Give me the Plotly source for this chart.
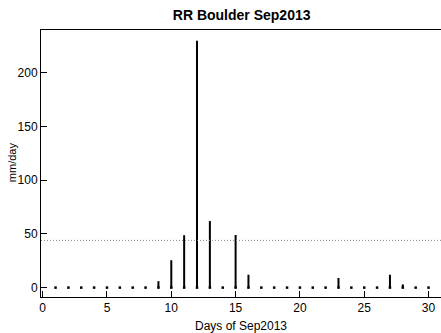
import plotly.graph_objects as go

days = list(range(1, 31))
rain = [0, 0, 0, 0, 0, 0, 0, 0, 6, 25.5, 48.8, 230, 62, 0, 49, 12,
        0, 0, 0, 0, 0, 0, 9, 0, 0, 0, 12, 3, 0, 0]
ref_level = 44
x_ticks = [0, 5, 10, 15, 20, 25, 30]
y_ticks = [0, 50, 100, 150, 200]

xs, ys = [], []
for d, v in zip(days, rain):
    xs += [d, d, None]
    ys += [0, v, None]

fig = go.Figure()
fig.add_trace(go.Scatter(x=xs, y=ys, mode="lines",
                         line=dict(color="black", width=2), hoverinfo="skip"))
fig.add_trace(go.Scatter(x=days, y=[0] * len(days), mode="markers",
                         marker=dict(color="black", size=2.5, symbol="square"),
                         hoverinfo="skip"))
fig.add_shape(type="line", xref="paper", yref="y", x0=0, x1=1,
              y0=ref_level, y1=ref_level,
              line=dict(color="#8a8a8a", width=1, dash="1px,2px"))

font = "Liberation Sans, Arial, sans-serif"
fig.add_annotation(text="mm/day", xref="paper", yref="paper",
                   x=-0.0725, y=0.505, xanchor="center", yanchor="middle",
                   textangle=-90, showarrow=False,
                   font=dict(size=11, family=font, color="black"))
fig.update_layout(
    width=441, height=333,
    margin=dict(l=41, r=0, t=30, b=36),
    plot_bgcolor="white", paper_bgcolor="white",
    showlegend=False,
    font=dict(family=font, size=12, color="black"),
    title=dict(text="<b>RR Boulder Sep2013</b>", x=0.548, xanchor="center",
               y=0.955, yanchor="middle", font=dict(size=14, family=font)),
    xaxis=dict(range=[-0.13, 30.97], tickvals=x_ticks, ticks="inside",
               ticklen=6, tickcolor="black", showline=True, linecolor="black",
               linewidth=1, mirror=True, showgrid=False, zeroline=False,
               title=dict(text="Days of Sep2013", standoff=7,
                          font=dict(size=12))),
    yaxis=dict(range=[-8.75, 240], tickvals=y_ticks, ticks="inside",
               ticklen=6, tickcolor="black", showline=True, linecolor="black",
               linewidth=1, showgrid=False, zeroline=False,
               ticklabelstandoff=0),
)
fig.write_html("out.html")
